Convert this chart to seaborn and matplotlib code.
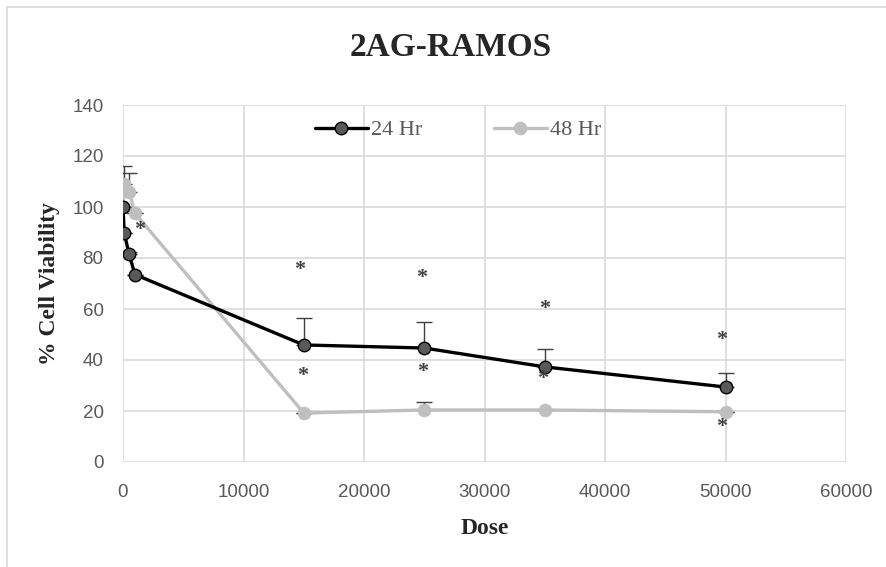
import matplotlib
matplotlib.use("Agg")
import matplotlib.pyplot as plt
from matplotlib.patches import Rectangle
import numpy as np
import pandas as pd
import seaborn as sns

# Dose-response data
dose = [0, 100, 500, 1000, 15000, 25000, 35000, 50000]
viab_24 = [100, 90, 81.5, 73.5, 45.9, 44.7, 37.3, 29.4]
err_24 = [0, 0, 1.0, 0, 10.4, 10.2, 6.9, 5.6]
viab_48 = [100, 109, 106, 97.5, 19.2, 20.4, 20.4, 19.7]
err_48 = [0, 7.0, 7.5, 0, 0, 3.1, 0, 0]

# Significance markers (dose, viability)
star_x = [1400, 14700, 24800, 35000, 49700, 14900, 24900, 34800, 49700]
star_y = [91, 75.3, 72, 60, 47.8, 33.7, 35.3, 32.5, 13.7]

series_names = ["24 Hr", "48 Hr"]
x_ticks = [0, 10000, 20000, 30000, 40000, 50000, 60000]
y_ticks = [0, 20, 40, 60, 80, 100, 120, 140]

df = pd.DataFrame({
    "Dose": dose * 2,
    "Viability": viab_24 + viab_48,
    "Series": [series_names[0]] * len(dose) + [series_names[1]] * len(dose),
})

sns.set_theme(style="white")
plt.rcParams["font.family"] = ["Liberation Serif", "DejaVu Serif"]

fig = plt.figure(figsize=(8.86, 5.67), dpi=100)
ax = fig.add_axes([123 / 886, 1 - 462 / 567, (846 - 123) / 886, (462 - 105) / 567])

# outer chart frame
fig.patches.append(Rectangle((7 / 886, -0.02), 1, 1.02 - 7 / 567, transform=fig.transFigure,
                             fill=False, edgecolor="#d9d9d9", linewidth=1.2, zorder=0))

c24, c48 = "#000000", "#bfbfbf"

# error bars (upper only)
ax.errorbar(dose, viab_48, yerr=[np.zeros(len(dose)), err_48], fmt="none",
            ecolor="#404040", elinewidth=1, capsize=6, capthick=1, zorder=2)
ax.errorbar(dose, viab_24, yerr=[np.zeros(len(dose)), err_24], fmt="none",
            ecolor="#404040", elinewidth=1, capsize=6, capthick=1, zorder=2)

sns.lineplot(data=df[df["Series"] == "48 Hr"], x="Dose", y="Viability", ax=ax,
             color=c48, linewidth=2.4, marker="o", markersize=9,
             markerfacecolor=c48, markeredgecolor=c48, label="48 Hr", zorder=3)
sns.lineplot(data=df[df["Series"] == "24 Hr"], x="Dose", y="Viability", ax=ax,
             color=c24, linewidth=2.4, marker="o", markersize=9,
             markerfacecolor="#595959", markeredgecolor="#000000", markeredgewidth=1,
             label="24 Hr", zorder=4)

for sx, sy in zip(star_x, star_y):
    ax.text(sx, sy, "*", ha="center", va="center", fontsize=16, fontweight="bold",
            color="#404040", zorder=5)

ax.set_xlim(0, 60000)
ax.set_ylim(0, 140)
ax.set_xticks(x_ticks)
ax.set_yticks(y_ticks)
ax.set_xticklabels([str(t) for t in x_ticks], fontsize=13.5, color="#595959",
                   family="Liberation Sans")
ax.set_yticklabels([str(t) for t in y_ticks], fontsize=13.5, color="#595959",
                   family="Liberation Sans")
ax.tick_params(axis="x", length=0, pad=16)
ax.tick_params(axis="y", length=0, pad=14)
ax.grid(True, color="#d9d9d9", linewidth=1.2)
ax.set_axisbelow(True)
for s in ax.spines.values():
    s.set_visible(False)

ax.set_xlabel("Dose", fontsize=17, fontweight="bold")
ax.set_ylabel("% Cell Viability", fontsize=17, fontweight="bold")
ax.xaxis.set_label_coords(0.5, (462 - 528) / 357)
ax.yaxis.set_label_coords((50 - 123) / 723, 0.5)
ax.xaxis.label.set_va("center")
ax.yaxis.label.set_va("center")
fig.text(451 / 886, 1 - 48 / 567, "2AG-RAMOS", ha="center", va="center",
         fontsize=24, fontweight="bold")

handles, labels = ax.get_legend_handles_labels()
order = [labels.index("24 Hr"), labels.index("48 Hr")]
ax.legend([handles[i] for i in order], [labels[i] for i in order],
          loc="center", bbox_to_anchor=((458 - 123) / 723, (462 - 130) / 357), ncol=2,
          frameon=False, fontsize=16, handlelength=2.4, columnspacing=3.2,
          handletextpad=0.15, labelcolor="#595959")

fig.savefig("out.png", dpi=100)
